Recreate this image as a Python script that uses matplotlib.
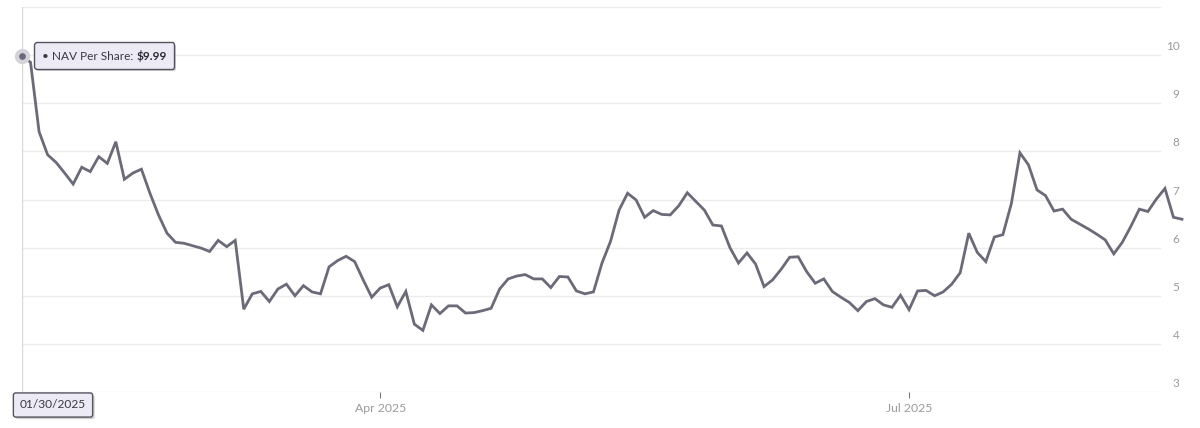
import matplotlib
matplotlib.use("Agg")
import matplotlib.pyplot as plt
from matplotlib.offsetbox import TextArea, HPacker, AnnotationBbox
import matplotlib.patheffects as pe
import pandas as pd

# NAV per share, one value per trading day
nav = [
    9.99, 9.85, 8.41, 7.93, 7.77, 7.55, 7.32, 7.67, 7.58, 7.89,
    7.75, 8.20, 7.42, 7.55, 7.63, 7.13, 6.68, 6.30, 6.11, 6.09,
    6.04, 5.99, 5.92, 6.15, 6.02, 6.15, 4.72, 5.04, 5.09, 4.88,
    5.14, 5.24, 5.00, 5.21, 5.08, 5.04, 5.60, 5.73, 5.82, 5.71,
    5.33, 4.97, 5.16, 5.23, 4.77, 5.09, 4.41, 4.28, 4.81, 4.63,
    4.79, 4.79, 4.64, 4.65, 4.69, 4.74, 5.14, 5.35, 5.41, 5.44,
    5.35, 5.35, 5.17, 5.40, 5.39, 5.10, 5.04, 5.08, 5.68, 6.13,
    6.78, 7.13, 6.99, 6.63, 6.77, 6.69, 6.68, 6.87, 7.14, 6.96,
    6.78, 6.47, 6.45, 6.00, 5.68, 5.89, 5.66, 5.19, 5.33, 5.55,
    5.80, 5.81, 5.50, 5.26, 5.35, 5.09, 4.97, 4.86, 4.69, 4.88,
    4.94, 4.81, 4.76, 5.01, 4.71, 5.10, 5.11, 5.00, 5.08, 5.24,
    5.48, 6.30, 5.90, 5.71, 6.22, 6.27, 6.92, 7.97, 7.72, 7.20,
    7.08, 6.76, 6.80, 6.59, 6.49, 6.39, 6.28, 6.16, 5.87, 6.11,
    6.44, 6.80, 6.75, 7.01, 7.23, 6.63, 6.59,
]
holidays = ["2025-02-17", "2025-04-18", "2025-05-26", "2025-06-19", "2025-07-04"]
dates = pd.bdate_range("2025-01-30", periods=len(nav), freq="C", holidays=holidays)

y_ticks = [3, 4, 5, 6, 7, 8, 9, 10]
x_tick_months = ["2025-04", "2025-07"]

line_col = "#6b6a78"
grid_col = "#ececec"
label_col = "#9a9a9a"

plt.rcParams["font.family"] = ["Lato", "DejaVu Sans"]

fig = plt.figure(figsize=(12, 4.28), dpi=100)
ax = fig.add_axes([22 / 1200, 36 / 428, 1160 / 1200, 385 / 428])
x = list(range(len(nav)))

ax.set_xlim(0, len(nav) - 1)
ax.set_ylim(3, 11)
for s in ax.spines.values():
    s.set_visible(False)

# horizontal grid, stops short of the value labels
grid_end = (1160 - 22) / 1160
for v in y_ticks + [11]:
    ax.axhline(v, xmin=0, xmax=grid_end, color=grid_col, lw=1, zorder=0)
for v in y_ticks:
    ax.text(0.998, v + 0.06, str(v), transform=ax.get_yaxis_transform(),
            ha="right", va="bottom", fontsize=8.5, color=label_col)
ax.set_yticks([])

# x ticks at first trading day of each labelled month
tick_pos = [next(i for i, d in enumerate(dates) if d.strftime("%Y-%m") == m) for m in x_tick_months]
ax.set_xticks(tick_pos)
ax.set_xticklabels([dates[i].strftime("%b %Y") for i in tick_pos])
ax.tick_params(axis="x", length=4.5, width=0.8, color="#777777", pad=3.5,
               labelsize=8.8, labelcolor=label_col)

# hover crosshair at the first point
ax.axvline(0, color="#d9d9d9", lw=1, zorder=1)

ax.plot(x, nav, color=line_col, lw=2.0, solid_joinstyle="miter", zorder=3, clip_on=False)
ax.plot(0, nav[0], "o", ms=10, color="#d4d3da", zorder=4, clip_on=False)
ax.plot(0, nav[0], "o", ms=3.8, color=line_col, zorder=5, clip_on=False)

# value tooltip
parts = HPacker(children=[
    TextArea("\u2022 NAV Per Share: ", textprops=dict(fontsize=8.6, color="#3a3a44")),
    TextArea(f"${nav[0]:.2f}", textprops=dict(fontsize=8.6, color="#2a2a33", fontweight="bold")),
], align="baseline", pad=0, sep=0)
ab = AnnotationBbox(parts, (0, nav[0]), xybox=(20, 0), xycoords="data",
                    boxcoords="offset pixels", box_alignment=(0, 0.5), frameon=True,
                    bboxprops=dict(boxstyle="round,pad=0.55,rounding_size=0.2",
                                   fc="#eceaf4", ec="#55545e", lw=1.0),
                    zorder=6, annotation_clip=False)
ab.patch.set_path_effects([pe.SimplePatchShadow(offset=(1.5, -1.5), alpha=0.25), pe.Normal()])
ax.add_artist(ab)

# date tooltip
ax.annotate(dates[0].strftime("%m/%d/%Y"), xy=(0, 0), xycoords=("data", "axes fraction"),
            xytext=(31, -13), textcoords="offset pixels", ha="center", va="center",
            fontsize=8.6, color="#3a3a44", zorder=6, annotation_clip=False,
            bbox=dict(boxstyle="round,pad=0.55,rounding_size=0.2", fc="#eceaf4",
                      ec="#55545e", lw=1.0,
                      path_effects=[pe.SimplePatchShadow(offset=(1.5, -1.5), alpha=0.25), pe.Normal()]))

fig.savefig("out.png", dpi=100)
